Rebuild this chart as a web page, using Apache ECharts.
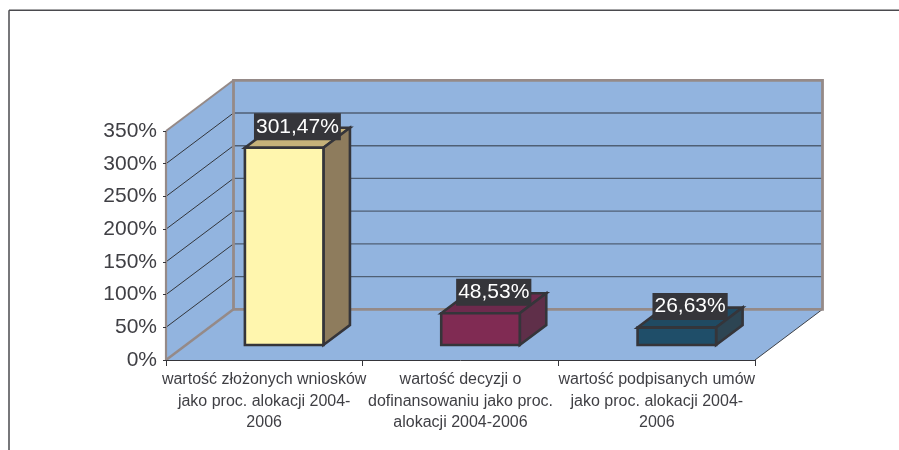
<!DOCTYPE html>
<html>
<head>
<meta charset="utf-8">
<style>html,body{margin:0;padding:0;background:#fff}#c{width:899px;height:450px}</style>
<script src="https://cdn.jsdelivr.net/npm/echarts@6/dist/echarts.min.js"></script>
</head>
<body>
<div id="c"></div>
<script>
const categories = [
  'wartość złożonych wniosków\njako proc. alokacji 2004-\n2006',
  'wartość decyzji o\ndofinansowaniu jako proc.\nalokacji 2004-2006',
  'wartość podpisanych umów\njako proc. alokacji 2004-\n2006'
];
const values = [301.47, 48.53, 26.63];
const valueLabels = ['301,47%', '48,53%', '26,63%'];
const yTicks = [0, 50, 100, 150, 200, 250, 300, 350];
const frontColors = ['#fff6ae', '#802b53', '#1f4e69'];
const sideColors = ['#8e7c5d', '#5f2f49', '#2d4553'];
const topColors = ['#c6b279', '#6e2a4d', '#204a62'];

const FONT = '"Liberation Sans", Arial, sans-serif';
const TEXT = '#3f3f44';
const DARK = '#35353a';
const WALL = '#92b4df';
const EDGE = '#958a88';
const DX = 67.5, DY = -50.7;      // depth of the plot box
const BDX = 20, BDY = -15;        // bar inset from the front plane
const BW = 26.5, BH = -20;        // depth of a bar

function poly(points, fill, stroke, lw) {
  return { type: 'polygon', shape: { points }, style: { fill, stroke: stroke || fill, lineWidth: lw || 0, lineJoin: 'miter' } };
}
function line(a, b, stroke, lw) {
  return { type: 'line', shape: { x1: a[0], y1: a[1], x2: b[0], y2: b[1] }, style: { stroke, lineWidth: lw, fill: null } };
}

function renderWalls(params, api) {
  const g = params.coordSys;
  const x0 = g.x, x1 = g.x + g.width;
  const yb = api.coord([0, 0])[1];
  const yt = api.coord([0, 350])[1];
  const ch = [];
  ch.push(poly([[x0, yb], [x0 + DX, yb + DY], [x1 + DX, yb + DY], [x1, yb]], WALL));
  ch.push(poly([[x0, yb], [x0, yt], [x0 + DX, yt + DY], [x0 + DX, yb + DY]], WALL));
  ch.push(poly([[x0 + DX, yt + DY], [x1 + DX, yt + DY], [x1 + DX, yb + DY], [x0 + DX, yb + DY]], WALL));
  yTicks.forEach(function (t) {
    if (t === 0 || t === 350) return;
    const y = api.coord([0, t])[1];
    ch.push(line([x0, y], [x0 + DX, y + DY], '#33363c', 1));
    ch.push(line([x0 + DX, y + DY], [x1 + DX, y + DY], '#4f5f74', 1.3));
  });
  ch.push(line([x1, yb], [x1 + DX, yb + DY], '#3c4048', 1));
  ch.push(line([x0, yb], [x0 + DX, yb + DY], EDGE, 2.6));
  ch.push(line([x0, yt], [x0 + DX, yt + DY], EDGE, 2));
  ch.push(line([x0, yb], [x0, yt], EDGE, 2.2));
  ch.push({ type: 'rect', shape: { x: x0 + DX, y: yt + DY, width: g.width, height: yb - yt },
    style: { fill: null, stroke: EDGE, lineWidth: 2.8 } });
  return { type: 'group', children: ch };
}

function renderBar(params, api) {
  const i = api.value(0);
  const top = api.coord([i, api.value(1)]);
  const base = api.coord([i, 0]);
  const w = api.size([1, 0])[0] * 0.4;
  const xl = top[0] - w / 2 + BDX, xr = xl + w;
  const yt = top[1] + BDY, yb = base[1] + BDY;
  const lw = 2.6;
  return { type: 'group', children: [
    poly([[xl, yt], [xl + BW, yt + BH], [xr + BW, yt + BH], [xr, yt]], topColors[i], DARK, lw),
    poly([[xr, yt], [xr + BW, yt + BH], [xr + BW, yb + BH], [xr, yb]], sideColors[i], DARK, lw),
    poly([[xl, yt], [xr, yt], [xr, yb], [xl, yb]], frontColors[i], DARK, lw),
    { type: 'text', z2: 50, style: {
        x: top[0] + BDX + BW / 2, y: yt + BH / 2 - 11,
        text: valueLabels[i], align: 'center', verticalAlign: 'middle',
        font: '21px ' + FONT, fill: '#ffffff', backgroundColor: DARK, padding: [3, 2, 3, 2]
    } }
  ] };
}

const chart = echarts.init(document.getElementById('c'), null, { renderer: 'canvas' });
chart.setOption({
  animation: false,
  backgroundColor: '#ffffff',
  grid: { left: 166, top: 131, width: 589, height: 229, containLabel: false },
  xAxis: {
    type: 'category', data: categories, boundaryGap: true, z: 10,
    axisLine: { show: true, lineStyle: { color: DARK, width: 1 } },
    axisTick: { show: true, alignWithLabel: false, length: 6, lineStyle: { color: DARK, width: 1 } },
    axisLabel: { interval: 0, margin: 9, color: TEXT, fontFamily: FONT, fontSize: 16, lineHeight: 21.5, align: 'center' },
    splitLine: { show: false }
  },
  yAxis: {
    type: 'value', min: 0, max: 350, interval: 50, z: 10,
    axisLine: { show: false },
    axisTick: { show: true, length: 3, lineStyle: { color: DARK, width: 1 } },
    axisLabel: { margin: 9, color: TEXT, fontFamily: FONT, fontSize: 21, formatter: '{value}%' },
    splitLine: { show: false }
  },
  series: [
    { type: 'custom', name: 'walls', z: 1, silent: true, data: [[0, 0]], renderItem: renderWalls, encode: { x: 0, y: 1 }, clip: false },
    { type: 'custom', name: 'wartość', z: 3, data: values.map(function (v, i) { return [i, v]; }), renderItem: renderBar, encode: { x: 0, y: 1 }, clip: false }
  ],
  graphic: [
    { type: 'line', silent: true, shape: { x1: 9, y1: 10.2, x2: 899, y2: 10.2 }, style: { stroke: '#4a4a4e', lineWidth: 1.5 } },
    { type: 'line', silent: true, shape: { x1: 9, y1: 10.2, x2: 9, y2: 450 }, style: { stroke: '#4a4a4e', lineWidth: 1.5 } }
  ]
});
</script>
</body>
</html>
